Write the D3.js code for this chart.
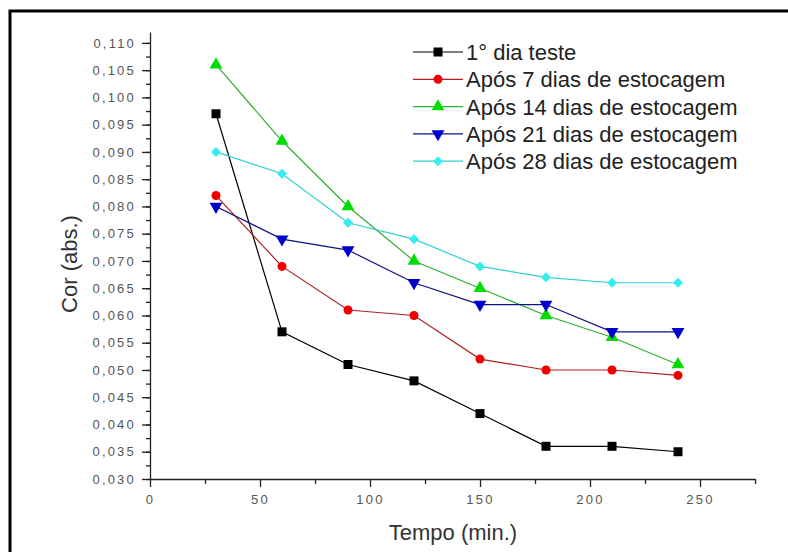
<!DOCTYPE html>
<html>
<head>
<meta charset="utf-8">
<script src="https://cdn.jsdelivr.net/npm/d3@7"></script>
<style>
  body { margin: 0; background: #fff; }
  .tick text { font-family: Arial, "Liberation Sans", sans-serif; font-size: 13px; fill: #555; letter-spacing: 2.2px; }
  .lbl { font-family: Arial, "Liberation Sans", sans-serif; fill: #333; }
</style>
</head>
<body>
<svg id="chart" width="788" height="552"></svg>
<script>
// data
const tempo = [30, 60, 90, 120, 150, 180, 210, 240];
const seriesNames = ["1° dia teste", "Após 7 dias de estocagem", "Após 14 dias de estocagem", "Após 21 dias de estocagem", "Após 28 dias de estocagem"];
const dia1 = [0.097, 0.057, 0.051, 0.048, 0.042, 0.036, 0.036, 0.035];
const dias7 = [0.082, 0.069, 0.061, 0.060, 0.052, 0.050, 0.050, 0.049];
const dias14 = [0.106, 0.092, 0.080, 0.070, 0.065, 0.060, 0.056, 0.051];
const dias21 = [0.080, 0.074, 0.072, 0.066, 0.062, 0.062, 0.057, 0.057];
const dias28 = [0.090, 0.086, 0.077, 0.074, 0.069, 0.067, 0.066, 0.066];
const xTicks = [0, 50, 100, 150, 200, 250];
const yTicks = [0.030, 0.035, 0.040, 0.045, 0.050, 0.055, 0.060, 0.065, 0.070, 0.075, 0.080, 0.085, 0.090, 0.095, 0.100, 0.105, 0.110];

const allValues = [dia1, dias7, dias14, dias21, dias28];
const markerColor = ["#000000", "#ee0000", "#00dd00", "#0000cc", "#33eeee"];
const lineColor = ["#000000", "#b02020", "#30b030", "#101080", "#30d0d0"];
const symbols = [d3.symbolSquare, d3.symbolCircle, d3.symbolTriangle, d3.symbolTriangle, d3.symbolSquare];
const symSize = [81, 64, 72, 72, 50];
const symRot = [0, 0, 0, 180, 45];

var svg = d3.select("#chart");

// outer frame
svg.append("rect")
    .attr("x", 10).attr("y", 11)
    .attr("width", 820).attr("height", 600)
    .attr("fill", "none")
    .attr("stroke", "#000")
    .attr("stroke-width", 3);

var x = d3.scaleLinear().domain([0, 275]).range([150, 755]);
var y = d3.scaleLinear().domain([0.030, 0.112]).range([479, 32]);

// y axis, major + minor
svg.append("g")
    .attr("transform", "translate(150,0)")
    .call(d3.axisLeft(y).tickValues(d3.range(0.030, 0.1121, 0.0025)).tickSize(4).tickFormat(""))
    .call(g => g.select(".domain").remove());
svg.append("g")
    .attr("transform", "translate(150,0)")
    .call(d3.axisLeft(y).tickValues(yTicks).tickSize(8).tickSizeOuter(0).tickPadding(6)
        .tickFormat(d => d3.format(".3f")(d).replace(".", ",")));

// x axis
svg.append("g")
    .attr("transform", "translate(0,479)")
    .call(d3.axisBottom(x).tickValues(d3.range(25, 276, 50)).tickSize(5).tickFormat(""))
    .call(g => g.select(".domain").remove());
svg.append("g")
    .attr("transform", "translate(0,479)")
    .call(d3.axisBottom(x).tickValues(xTicks).tickSize(8).tickSizeOuter(0).tickPadding(8));

svg.selectAll(".domain, .tick line").attr("stroke", "#222").attr("stroke-width", 1.3);

// axis titles
svg.append("text").attr("class", "lbl")
    .attr("transform", "translate(77,264) rotate(-90)")
    .attr("text-anchor", "middle")
    .style("font-size", "22px")
    .text("Cor (abs.)");
svg.append("text").attr("class", "lbl")
    .attr("x", 453).attr("y", 540)
    .attr("text-anchor", "middle")
    .style("font-size", "22px")
    .text("Tempo (min.)");

var line = d3.line().x((d, i) => x(tempo[i])).y(d => y(d));

allValues.forEach(function (vals, s) {
    svg.append("path")
        .datum(vals)
        .attr("d", line)
        .attr("fill", "none")
        .attr("stroke", lineColor[s])
        .attr("stroke-width", 1.2);
    svg.selectAll(".m" + s)
        .data(vals)
        .enter()
        .append("path")
        .attr("class", "m" + s)
        .attr("d", d3.symbol().type(symbols[s]).size(symSize[s]))
        .attr("transform", (d, i) => "translate(" + x(tempo[i]) + "," + y(d) + ") rotate(" + symRot[s] + ")")
        .attr("fill", markerColor[s]);
});

// legend
var legend = svg.append("g");
seriesNames.forEach(function (name, s) {
    var ly = 52 + s * 27.3;
    legend.append("line")
        .attr("x1", 413).attr("x2", 463)
        .attr("y1", ly).attr("y2", ly)
        .attr("stroke", lineColor[s])
        .attr("stroke-width", 1.2);
    legend.append("path")
        .attr("d", d3.symbol().type(symbols[s]).size(symSize[s]))
        .attr("transform", "translate(438," + ly + ") rotate(" + symRot[s] + ")")
        .attr("fill", markerColor[s]);
    legend.append("text").attr("class", "lbl")
        .attr("x", 466).attr("y", ly + 8)
        .style("font-size", "22px")
        .style("fill", "#222")
        .text(name);
});
</script>
</body>
</html>
